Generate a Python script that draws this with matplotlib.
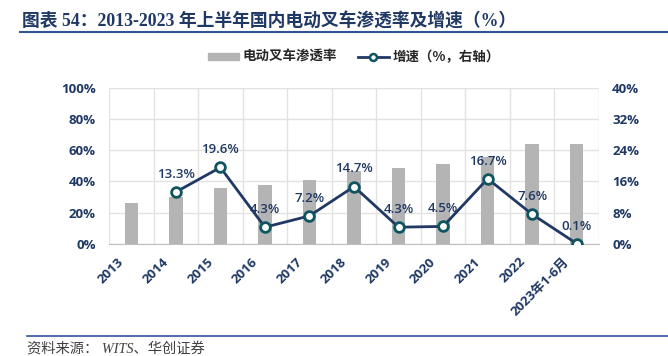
import matplotlib
matplotlib.use("Agg")
import matplotlib.pyplot as plt
import matplotlib.transforms as mtransforms
from matplotlib.patches import Patch
from matplotlib.lines import Line2D
from matplotlib.ticker import FuncFormatter

plt.rcParams["font.family"] = ["Open Sans", "Noto Sans CJK SC"]

years = ["2013", "2014", "2015", "2016", "2017", "2018", "2019", "2020", "2021", "2022", "2023年1-6月"]
penetration = [26.5, 30.1, 36.1, 37.8, 40.8, 46.8, 48.7, 50.9, 55.5, 64.1, 64.1]
growth_years = years[1:]
growth = [13.3, 19.6, 4.3, 7.2, 14.7, 4.3, 4.5, 16.7, 7.6, 0.1]

navy = "#1f3864"
teal = "#0f5560"
bar_gray = "#b4b4b4"
grid_gray = "#e2e2e2"
cjk = ["Noto Sans CJK SC", "Open Sans"]

fig = plt.figure(figsize=(6.68, 3.56), dpi=100)
ax = fig.add_axes([0.1632, 0.3146, 0.7335, 0.439])
ax2 = ax.twinx()

x = list(range(len(years)))
ax.bar(x, penetration, width=0.3, color=bar_gray, zorder=2)
ax.set_xlim(-0.5, len(years) - 0.5)
ax.set_ylim(0, 100)
ax.set_yticks(range(0, 101, 20))
ax.yaxis.set_major_formatter(FuncFormatter(lambda v, p: f"{v:.0f}%"))

# vertical grid on category boundaries
for b in range(len(years) + 1):
    ax.axvline(b - 0.5, color=grid_gray, lw=1, zorder=0)
ax.yaxis.grid(True, color=grid_gray, lw=1, zorder=0)
ax.set_axisbelow(True)

gx = [years.index(y) for y in growth_years]
ax2.plot(gx, growth, color=navy, lw=2, zorder=3,
         marker="o", markersize=7, markerfacecolor="white",
         markeredgecolor=teal, markeredgewidth=2)
ax2.set_ylim(0, 40)
ax2.set_yticks(range(0, 41, 8))
ax2.yaxis.set_major_formatter(FuncFormatter(lambda v, p: f"{v:.0f}%"))
for xi, v in zip(gx, growth):
    ax2.annotate(f"{v}%", (xi, v), xytext=(0, 8), textcoords="offset points",
                 ha="center", va="bottom", fontsize=9.5, fontweight="semibold",
                 color=navy, zorder=5)

for a in (ax, ax2):
    a.tick_params(length=0, labelsize=9.5, labelcolor=navy, pad=9.5)
    for s in a.spines.values():
        s.set_visible(False)
ax.tick_params(axis="x", pad=4)
ax.spines["bottom"].set_visible(True)
ax.spines["bottom"].set_color("#bfbfbf")

ax.set_xticks(x)
ax.set_xticklabels(years, rotation=45, ha="right", rotation_mode="anchor",
                   fontsize=9.5, fontweight="bold", color=navy)
for a in (ax, ax2):
    for lab in a.get_yticklabels():
        lab.set_fontweight("bold")

# move rotated year labels down-left, like the original
shift = mtransforms.ScaledTranslation(-10 / 72, -4 / 72, fig.dpi_scale_trans)
for lab in ax.get_xticklabels():
    lab.set_transform(lab.get_transform() + shift)

handles = [Patch(color=bar_gray, label="电动叉车渗透率"),
           Line2D([0], [0], color=navy, lw=2, marker="o", markersize=5,
                  markerfacecolor="white", markeredgecolor=teal, markeredgewidth=1.8,
                  label="增速（%，右轴）")]
fig.legend(handles=handles, loc="center", bbox_to_anchor=(0.53, 0.84), ncol=2,
           frameon=False, prop={"family": cjk, "size": 9.7, "weight": "bold"},
           handlelength=2.3, handleheight=0.45, columnspacing=1.5, handletextpad=0.3,
           labelcolor="#262626")

# title and source
fig.text(0.033, 0.94, "图表 54：2013-2023 年上半年国内电动叉车渗透率及增速（%）",
         fontsize=12.8, fontweight="bold", color=navy, va="center",
         family=["Liberation Serif", "Noto Sans CJK SC"])
fig.add_artist(Line2D([0.03, 1.0], [0.91, 0.91], color="#2f5597", lw=1.5))
fig.add_artist(Line2D([0.04, 1.0], [0.057, 0.057], color="#2f5597", lw=1.2))
fig.text(0.04, 0.017, "资料来源： WITS、华创证券", fontsize=10.3, style="italic",
         color="#404040", va="center", family=["Liberation Serif", "Noto Sans CJK SC"])

fig.savefig("out.png", dpi=100)
